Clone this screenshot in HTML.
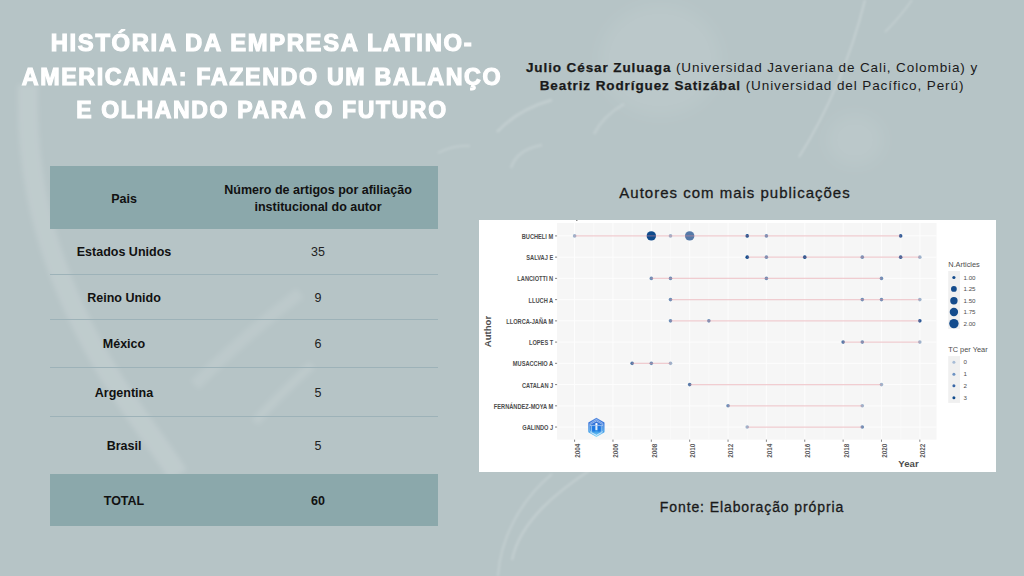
<!DOCTYPE html>
<html><head><meta charset="utf-8">
<style>
html,body{margin:0;padding:0;}
body{width:1024px;height:576px;overflow:hidden;position:relative;background:#b6c4c6;font-family:"Liberation Sans",sans-serif;}
.abs{position:absolute;}
#title{left:0;width:524px;top:27px;text-align:center;color:#fff;font-weight:bold;font-size:23px;line-height:33.5px;letter-spacing:1.6px;white-space:nowrap;-webkit-text-stroke:1.1px #fff;}
#authors{left:500px;width:504px;top:59px;text-align:center;color:#1a1a1a;font-size:13.5px;line-height:17.5px;letter-spacing:0.9px;white-space:nowrap;}
#authors b{font-weight:bold;-webkit-text-stroke:0.25px #1a1a1a;}
.hdr{left:50px;width:388px;background:#8ba8ab;}
.rowline{left:50px;width:388px;height:1px;background:#9db2b8;}
.c1{left:50px;width:148px;text-align:center;font-weight:bold;font-size:12.5px;color:#111;white-space:nowrap;}
.c2{left:198px;width:240px;text-align:center;font-size:12.5px;color:#222;white-space:nowrap;}
#ctitle{left:560px;width:350px;top:184px;text-align:center;font-size:15px;color:#1a1a1a;white-space:nowrap;letter-spacing:1px;-webkit-text-stroke:0.3px #1a1a1a;}
#fonte{left:560px;width:384px;top:499px;text-align:center;font-size:14px;color:#1a1a1a;white-space:nowrap;letter-spacing:0.9px;-webkit-text-stroke:0.3px #1a1a1a;}
</style></head>
<body>
<svg class="abs" style="left:0;top:0" width="1024" height="576" viewBox="0 0 1024 576">
<defs>
<filter id="b8" x="-50%" y="-50%" width="200%" height="200%"><feGaussianBlur stdDeviation="8"/></filter>
<filter id="b3" x="-50%" y="-50%" width="200%" height="200%"><feGaussianBlur stdDeviation="2.5"/></filter>
<filter id="b1" x="-50%" y="-50%" width="200%" height="200%"><feGaussianBlur stdDeviation="1"/></filter>
</defs>
<g fill="none" stroke="#ffffff">
<path d="M28 85 C 26 160, 38 230, 75 310 S 150 430, 178 475" stroke-width="20" stroke-opacity="0.13" filter="url(#b3)"/>
<path d="M195 385 C 230 350, 265 320, 300 293" stroke-width="12" stroke-opacity="0.09" filter="url(#b3)"/>
<path d="M255 422 C 270 405, 290 385, 312 365" stroke-width="9" stroke-opacity="0.10" filter="url(#b3)"/>

<path d="M865 0 C 855 40, 835 100, 799 157" stroke-width="2" stroke-opacity="0.20" filter="url(#b1)"/>
<path d="M912 0 C 905 10, 895 22, 885 32" stroke-width="2" stroke-opacity="0.16" filter="url(#b1)"/>
<ellipse cx="660" cy="60" rx="60" ry="55" fill="#fff" fill-opacity="0.07" stroke="none" filter="url(#b8)"/>
<ellipse cx="855" cy="140" rx="28" ry="25" fill="#fff" fill-opacity="0.07" stroke="none" filter="url(#b8)"/>

<path d="M590 470 C 560 490, 520 520, 512 560" stroke-width="2.5" stroke-opacity="0.16" filter="url(#b1)"/>
<path d="M552 474 C 520 500, 500 540, 498 576" stroke-width="2.5" stroke-opacity="0.14" filter="url(#b1)"/>
<path d="M497 132 C 510 118, 530 106, 552 100" stroke-width="3" stroke-opacity="0.16" filter="url(#b1)"/>
<path d="M511 168 C 515 155, 525 148, 542 145" stroke-width="3" stroke-opacity="0.13" filter="url(#b1)"/>
<path d="M594 134 C 600 122, 610 112, 624 104" stroke-width="3" stroke-opacity="0.13" filter="url(#b1)"/>
<path d="M438 153 C 448 148, 458 145, 470 146" stroke-width="2.5" stroke-opacity="0.12" filter="url(#b1)"/>
</g>
</svg>
<div id="title" class="abs"><div style="transform:scaleX(1.035);transform-origin:262px 0">HISTÓRIA DA EMPRESA LATINO-</div><div style="transform:scaleX(1.013);transform-origin:262px 0">AMERICANA: FAZENDO UM BALANÇO</div><div style="transform:scaleX(1.003);transform-origin:262px 0">E OLHANDO PARA O FUTURO</div></div>
<div id="authors" class="abs"><b>Julio César Zuluaga</b> (Universidad Javeriana de Cali, Colombia) y<br><b>Beatriz Rodríguez Satizábal</b> (Universidad del Pacífico, Perú)</div>

<div class="abs hdr" style="top:166px;height:63px;"></div>
<div class="abs hdr" style="top:474px;height:52px;"></div>
<div class="abs rowline" style="top:274px;"></div>
<div class="abs rowline" style="top:319px;"></div>
<div class="abs rowline" style="top:367px;"></div>
<div class="abs rowline" style="top:416px;"></div>

<div class="abs c1" style="top:191px;line-height:16px;">Pais</div>
<div class="abs c2" style="top:182px;line-height:17px;font-weight:bold;color:#111;">Número de artigos por afiliação<br>institucional do autor</div>
<div class="abs c1" style="top:244px;line-height:16px;">Estados Unidos</div>
<div class="abs c2" style="top:244px;line-height:16px;">35</div>
<div class="abs c1" style="top:290px;line-height:16px;">Reino Unido</div>
<div class="abs c2" style="top:290px;line-height:16px;">9</div>
<div class="abs c1" style="top:336px;line-height:16px;">México</div>
<div class="abs c2" style="top:336px;line-height:16px;">6</div>
<div class="abs c1" style="top:385px;line-height:16px;">Argentina</div>
<div class="abs c2" style="top:385px;line-height:16px;">5</div>
<div class="abs c1" style="top:438px;line-height:16px;">Brasil</div>
<div class="abs c2" style="top:438px;line-height:16px;">5</div>
<div class="abs c1" style="top:493px;line-height:16px;">TOTAL</div>
<div class="abs c2" style="top:493px;line-height:16px;font-weight:bold;color:#111;">60</div>

<div id="ctitle" class="abs">Autores com mais publicações</div>
<div id="fonte" class="abs">Fonte: Elaboração própria</div>

<svg class="abs" style="left:479px;top:220px;" width="517" height="252" viewBox="479 220 517 252">
<rect x="479" y="220" width="517" height="252" fill="#fff"/>
<rect x="576" y="220" width="1.5" height="1" fill="#8a8a8a"/>
<rect x="557.1" y="223" width="379.4" height="216.6" fill="#f6f6f6"/>
<path d="M593.78 223V439.6M632.14 223V439.6M670.50 223V439.6M708.86 223V439.6M747.22 223V439.6M785.58 223V439.6M823.94 223V439.6M862.30 223V439.6M900.66 223V439.6" stroke="#fbfbfb" stroke-width="0.7" fill="none"/>
<path d="M574.60 223V439.6M612.96 223V439.6M651.32 223V439.6M689.68 223V439.6M728.04 223V439.6M766.40 223V439.6M804.76 223V439.6M843.12 223V439.6M881.48 223V439.6M919.84 223V439.6M557.1 235.90H936.5M557.1 257.14H936.5M557.1 278.38H936.5M557.1 299.62H936.5M557.1 320.86H936.5M557.1 342.10H936.5M557.1 363.34H936.5M557.1 384.58H936.5M557.1 405.82H936.5M557.1 427.06H936.5" stroke="#fdfdfd" stroke-width="1" fill="none"/>
<circle cx="574.60" cy="235.90" r="1.8" fill="#9fb3cc"/>
<circle cx="651.32" cy="235.90" r="4.7" fill="#0f4a8c"/>
<circle cx="670.50" cy="235.90" r="1.8" fill="#9fb3cc"/>
<circle cx="689.68" cy="235.90" r="4.7" fill="#5579a8"/>
<circle cx="747.22" cy="235.90" r="1.8" fill="#0f4a8c"/>
<circle cx="766.40" cy="235.90" r="1.8" fill="#6f8fb8"/>
<circle cx="900.66" cy="235.90" r="1.8" fill="#2f5b98"/>
<circle cx="747.22" cy="257.14" r="1.8" fill="#0f4a8c"/>
<circle cx="766.40" cy="257.14" r="1.8" fill="#6f8fb8"/>
<circle cx="804.76" cy="257.14" r="1.8" fill="#0f4a8c"/>
<circle cx="862.30" cy="257.14" r="1.8" fill="#6f8fb8"/>
<circle cx="900.66" cy="257.14" r="1.8" fill="#2f5b98"/>
<circle cx="919.84" cy="257.14" r="1.8" fill="#9fb3cc"/>
<circle cx="651.32" cy="278.38" r="1.8" fill="#6f8fb8"/>
<circle cx="670.50" cy="278.38" r="1.8" fill="#6f8fb8"/>
<circle cx="766.40" cy="278.38" r="1.8" fill="#6f8fb8"/>
<circle cx="881.48" cy="278.38" r="1.8" fill="#6f8fb8"/>
<circle cx="670.50" cy="299.62" r="1.8" fill="#6f8fb8"/>
<circle cx="862.30" cy="299.62" r="1.8" fill="#6f8fb8"/>
<circle cx="881.48" cy="299.62" r="1.8" fill="#6f8fb8"/>
<circle cx="919.84" cy="299.62" r="1.8" fill="#9fb3cc"/>
<circle cx="670.50" cy="320.86" r="1.8" fill="#6f8fb8"/>
<circle cx="708.86" cy="320.86" r="1.8" fill="#6f8fb8"/>
<circle cx="919.84" cy="320.86" r="1.8" fill="#2f5b98"/>
<circle cx="843.12" cy="342.10" r="1.8" fill="#5579a8"/>
<circle cx="862.30" cy="342.10" r="1.8" fill="#6f8fb8"/>
<circle cx="919.84" cy="342.10" r="1.8" fill="#9fb3cc"/>
<circle cx="632.14" cy="363.34" r="1.8" fill="#5579a8"/>
<circle cx="651.32" cy="363.34" r="1.8" fill="#6f8fb8"/>
<circle cx="670.50" cy="363.34" r="1.8" fill="#9fb3cc"/>
<circle cx="689.68" cy="384.58" r="1.8" fill="#5579a8"/>
<circle cx="881.48" cy="384.58" r="1.8" fill="#9fb3cc"/>
<circle cx="728.04" cy="405.82" r="1.8" fill="#6f8fb8"/>
<circle cx="862.30" cy="405.82" r="1.8" fill="#9fb3cc"/>
<circle cx="747.22" cy="427.06" r="1.8" fill="#9fb3cc"/>
<circle cx="862.30" cy="427.06" r="1.8" fill="#6f8fb8"/>
<path d="M574.60 235.90H900.66M747.22 257.14H919.84M651.32 278.38H881.48M670.50 299.62H919.84M670.50 320.86H919.84M843.12 342.10H919.84M632.14 363.34H670.50M689.68 384.58H881.48M728.04 405.82H862.30M747.22 427.06H862.30" stroke="#e08a94" stroke-opacity="0.42" stroke-width="1.3" fill="none"/>
<text transform="translate(553.2 238.90) scale(0.9 1)" text-anchor="end" font-size="6.3" font-weight="bold" fill="#4d4d4d" font-family="Liberation Sans, sans-serif">BUCHELI M</text>
<text transform="translate(553.2 260.14) scale(0.9 1)" text-anchor="end" font-size="6.3" font-weight="bold" fill="#4d4d4d" font-family="Liberation Sans, sans-serif">SALVAJ E</text>
<text transform="translate(553.2 281.38) scale(0.9 1)" text-anchor="end" font-size="6.3" font-weight="bold" fill="#4d4d4d" font-family="Liberation Sans, sans-serif">LANCIOTTI N</text>
<text transform="translate(553.2 302.62) scale(0.9 1)" text-anchor="end" font-size="6.3" font-weight="bold" fill="#4d4d4d" font-family="Liberation Sans, sans-serif">LLUCH A</text>
<text transform="translate(553.2 323.86) scale(0.9 1)" text-anchor="end" font-size="6.3" font-weight="bold" fill="#4d4d4d" font-family="Liberation Sans, sans-serif">LLORCA-JAÑA M</text>
<text transform="translate(553.2 345.10) scale(0.9 1)" text-anchor="end" font-size="6.3" font-weight="bold" fill="#4d4d4d" font-family="Liberation Sans, sans-serif">LOPES T</text>
<text transform="translate(553.2 366.34) scale(0.9 1)" text-anchor="end" font-size="6.3" font-weight="bold" fill="#4d4d4d" font-family="Liberation Sans, sans-serif">MUSACCHIO A</text>
<text transform="translate(553.2 387.58) scale(0.9 1)" text-anchor="end" font-size="6.3" font-weight="bold" fill="#4d4d4d" font-family="Liberation Sans, sans-serif">CATALAN J</text>
<text transform="translate(553.2 408.82) scale(0.9 1)" text-anchor="end" font-size="6.3" font-weight="bold" fill="#4d4d4d" font-family="Liberation Sans, sans-serif">FERNÁNDEZ-MOYA M</text>
<text transform="translate(553.2 430.06) scale(0.9 1)" text-anchor="end" font-size="6.3" font-weight="bold" fill="#4d4d4d" font-family="Liberation Sans, sans-serif">GALINDO J</text>
<path d="M555 235.90H557.1M555 257.14H557.1M555 278.38H557.1M555 299.62H557.1M555 320.86H557.1M555 342.10H557.1M555 363.34H557.1M555 384.58H557.1M555 405.82H557.1M555 427.06H557.1M574.60 439.6V441.8M612.96 439.6V441.8M651.32 439.6V441.8M689.68 439.6V441.8M728.04 439.6V441.8M766.40 439.6V441.8M804.76 439.6V441.8M843.12 439.6V441.8M881.48 439.6V441.8M919.84 439.6V441.8" stroke="#333" stroke-width="0.6" fill="none"/>
<text transform="translate(580.00 443.6) rotate(-90)" text-anchor="end" font-size="6.4" font-weight="bold" fill="#595959" font-family="Liberation Sans, sans-serif">2004</text>
<text transform="translate(618.36 443.6) rotate(-90)" text-anchor="end" font-size="6.4" font-weight="bold" fill="#595959" font-family="Liberation Sans, sans-serif">2006</text>
<text transform="translate(656.72 443.6) rotate(-90)" text-anchor="end" font-size="6.4" font-weight="bold" fill="#595959" font-family="Liberation Sans, sans-serif">2008</text>
<text transform="translate(695.08 443.6) rotate(-90)" text-anchor="end" font-size="6.4" font-weight="bold" fill="#595959" font-family="Liberation Sans, sans-serif">2010</text>
<text transform="translate(733.44 443.6) rotate(-90)" text-anchor="end" font-size="6.4" font-weight="bold" fill="#595959" font-family="Liberation Sans, sans-serif">2012</text>
<text transform="translate(771.80 443.6) rotate(-90)" text-anchor="end" font-size="6.4" font-weight="bold" fill="#595959" font-family="Liberation Sans, sans-serif">2014</text>
<text transform="translate(810.16 443.6) rotate(-90)" text-anchor="end" font-size="6.4" font-weight="bold" fill="#595959" font-family="Liberation Sans, sans-serif">2016</text>
<text transform="translate(848.52 443.6) rotate(-90)" text-anchor="end" font-size="6.4" font-weight="bold" fill="#595959" font-family="Liberation Sans, sans-serif">2018</text>
<text transform="translate(886.88 443.6) rotate(-90)" text-anchor="end" font-size="6.4" font-weight="bold" fill="#595959" font-family="Liberation Sans, sans-serif">2020</text>
<text transform="translate(925.24 443.6) rotate(-90)" text-anchor="end" font-size="6.4" font-weight="bold" fill="#595959" font-family="Liberation Sans, sans-serif">2022</text>
<text x="908.5" y="467" text-anchor="middle" font-size="9.6" font-weight="bold" fill="#4d4d4d" font-family="Liberation Sans, sans-serif">Year</text>
<text transform="translate(491.3 331.5) rotate(-90)" text-anchor="middle" font-size="9.6" font-weight="bold" fill="#4d4d4d" font-family="Liberation Sans, sans-serif">Author</text>
<text x="948.2" y="267" font-size="7.4" fill="#4d4d4d" font-family="Liberation Sans, sans-serif">N.Articles</text>
<rect x="948.2" y="271" width="11.8" height="58" fill="#f0f0f0"/>
<circle cx="953.9" cy="277.5" r="1.6" fill="#134b8c"/>
<text x="963.5" y="279.7" font-size="6.2" fill="#4d4d4d" font-family="Liberation Sans, sans-serif">1.00</text>
<circle cx="953.9" cy="288.9" r="2.9" fill="#134b8c"/>
<text x="963.5" y="291.09999999999997" font-size="6.2" fill="#4d4d4d" font-family="Liberation Sans, sans-serif">1.25</text>
<circle cx="953.9" cy="300.7" r="3.7" fill="#134b8c"/>
<text x="963.5" y="302.9" font-size="6.2" fill="#4d4d4d" font-family="Liberation Sans, sans-serif">1.50</text>
<circle cx="953.9" cy="312" r="4.2" fill="#134b8c"/>
<text x="963.5" y="314.2" font-size="6.2" fill="#4d4d4d" font-family="Liberation Sans, sans-serif">1.75</text>
<circle cx="953.9" cy="323.6" r="4.7" fill="#134b8c"/>
<text x="963.5" y="325.8" font-size="6.2" fill="#4d4d4d" font-family="Liberation Sans, sans-serif">2.00</text>
<text x="948.2" y="352.3" font-size="7.4" fill="#4d4d4d" font-family="Liberation Sans, sans-serif">TC per Year</text>
<rect x="948.2" y="356.1" width="11.8" height="46.8" fill="#f0f0f0"/>
<circle cx="953.9" cy="362.2" r="1.5" fill="#a7bcd6"/>
<text x="963.5" y="364.4" font-size="6.2" fill="#4d4d4d" font-family="Liberation Sans, sans-serif">0</text>
<circle cx="953.9" cy="374.2" r="1.5" fill="#6d92c2"/>
<text x="963.5" y="376.4" font-size="6.2" fill="#4d4d4d" font-family="Liberation Sans, sans-serif">1</text>
<circle cx="953.9" cy="385.8" r="1.5" fill="#3866a6"/>
<text x="963.5" y="388.0" font-size="6.2" fill="#4d4d4d" font-family="Liberation Sans, sans-serif">2</text>
<circle cx="953.9" cy="397.8" r="1.5" fill="#0f4a8c"/>
<text x="963.5" y="400.0" font-size="6.2" fill="#4d4d4d" font-family="Liberation Sans, sans-serif">3</text>
<defs><linearGradient id="hg" x1="0" y1="0" x2="0" y2="1"><stop offset="0" stop-color="#5a8ee0"/><stop offset="0.3" stop-color="#2f6fd8"/><stop offset="0.65" stop-color="#2b8de3"/><stop offset="1" stop-color="#8adaf8"/></linearGradient></defs>
<polygon points="596.40,417.80 604.45,422.60 604.45,432.20 596.40,437.00 588.35,432.20 588.35,422.60" fill="url(#hg)"/>
<polygon points="596.40,419.50 602.98,423.45 602.98,431.35 596.40,435.30 589.82,431.35 589.82,423.45" fill="none" stroke="#e6f2ff" stroke-width="0.7" stroke-opacity="0.7"/>
<path d="M590.4 424.4L596.4 420.9L602.4 424.4M589.9 425.4H602.9M591.6 425.9V431.9M601.1999999999999 425.9V431.9M590.4 432.4L596.4 435.4L602.4 432.4" stroke="#f2f8ff" stroke-width="0.7" stroke-opacity="0.75" fill="none"/>
<rect x="592.1999999999999" y="426.4" width="3" height="5" fill="#1e78e2"/><rect x="597.6999999999999" y="426.4" width="3" height="5" fill="#1e78e2"/>
<circle cx="596.4" cy="424.09999999999997" r="1.2" fill="#fff"/><rect x="595.4" y="425.59999999999997" width="2" height="4.5" fill="#fff" fill-opacity="0.85"/>
</svg>
</body></html>
